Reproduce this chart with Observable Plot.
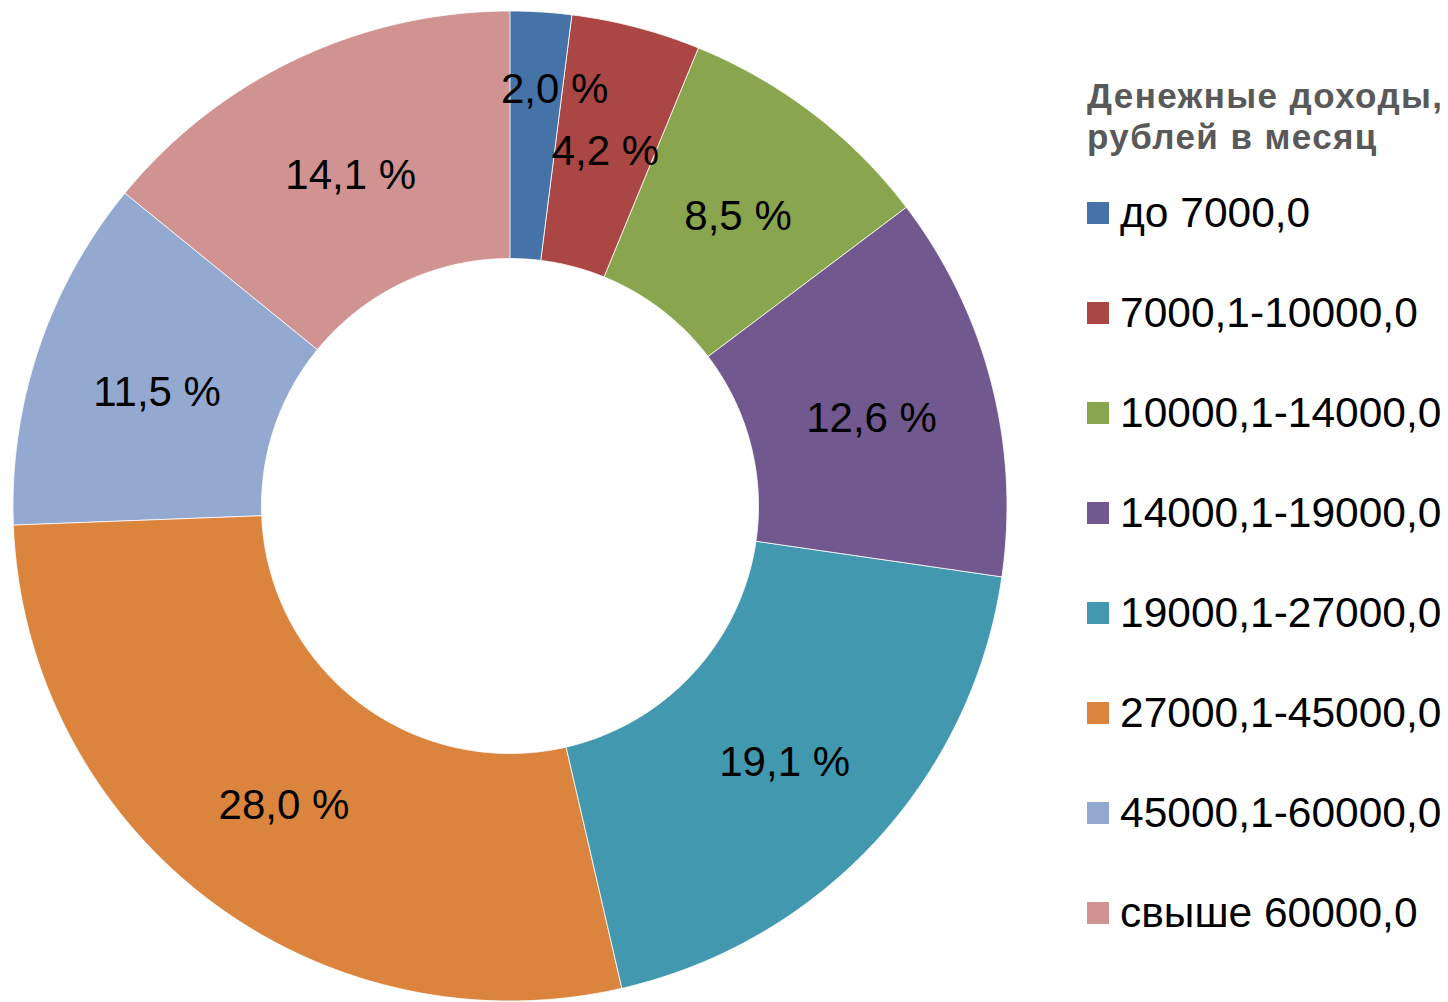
<!DOCTYPE html>
<html>
<head>
<meta charset="utf-8">
<script src="https://cdn.jsdelivr.net/npm/d3@7"></script>
<script src="https://cdn.jsdelivr.net/npm/@observablehq/plot@0.6"></script>
<style>
  body { margin: 0; background: #fff; }
  #wrap { position: relative; width: 1448px; height: 1002px; overflow: hidden; }
  #chart { position: absolute; left: 0; top: 0; }
  #legend { position: absolute; left: 1087px; top: 0; font-family: "Liberation Sans", Arial, sans-serif; }
  #legend .title { position: absolute; left: 0; top: 75px; font-weight: bold; font-size: 35px; line-height: 41px; color: #595959; white-space: nowrap; letter-spacing: 1.4px; }
  #legend .item { position: absolute; left: 0; height: 100px; display: flex; align-items: center; white-space: nowrap; font-size: 42.5px; color: #000; }
  #legend .sw { width: 22px; height: 22px; margin-right: 11px; flex: none; }
</style>
</head>
<body>
<div id="wrap">
  <div id="chart"></div>
  <div id="legend"></div>
</div>
<script>
// ---- data ----
const categories = ["до 7000,0", "7000,1-10000,0", "10000,1-14000,0", "14000,1-19000,0",
                    "19000,1-27000,0", "27000,1-45000,0", "45000,1-60000,0", "свыше 60000,0"];
const shares = [2.0, 4.2, 8.5, 12.6, 19.1, 28.0, 11.5, 14.1];
const colors = ["#4572A7", "#AA4643", "#89A54E", "#71588F", "#4198AF", "#DB843D", "#93A9CF", "#D19392"];
const legendTitle = ["Денежные доходы,", "рублей в месяц"];

// ---- geometry derived from data (clockwise from 12 o'clock) ----
const innerRatio = 0.5;
const total = d3.sum(shares);
const ring = [];
const labels = [];
let cum = 0;
shares.forEach((v, i) => {
  const a0 = cum / total * 2 * Math.PI;
  const a1 = (cum + v) / total * 2 * Math.PI;
  const n = Math.max(2, Math.ceil((a1 - a0) / (Math.PI / 360)));
  for (let k = 0; k <= n; k++) {
    const a = a0 + (a1 - a0) * k / n;
    ring.push({cat: categories[i], ox: Math.sin(a), oy: Math.cos(a), ix: innerRatio * Math.sin(a), iy: innerRatio * Math.cos(a)});
  }
  let mid = (a0 + a1) / 2;
  let r = (1 + innerRatio) / 2;
  const small = v < 3;
  if (small) { r = 0.85; mid += 2.4 * Math.PI / 180; } // tiny slice: label pushed outward
  labels.push({cat: categories[i], small, x: r * Math.sin(mid), y: r * Math.cos(mid),
               text: v.toFixed(1).replace(".", ",") + " %"});
  cum += v;
});

const chart = Plot.plot({
  width: 1448,
  height: 1002,
  marginLeft: 13,
  marginRight: 441,
  marginTop: 11,
  marginBottom: 1,
  x: {domain: [-1, 1], axis: null},
  y: {domain: [-1, 1], axis: null},
  color: {domain: categories, range: colors},
  style: {fontFamily: "'Liberation Sans', Arial, sans-serif", background: "white"},
  marks: [
    Plot.area(ring, {x1: "ox", y1: "oy", x2: "ix", y2: "iy", z: "cat", fill: "cat",
                     stroke: "white", strokeWidth: 1, strokeOpacity: 0.8}),
    Plot.text(labels.filter(d => !d.small), {x: "x", y: "y", text: "text", fontSize: 42, fill: "black", dy: 4}),
    Plot.text(labels.filter(d => d.small), {x: "x", y: "y", text: "text", fontSize: 42, fill: "black", dy: 1})
  ]
});
document.getElementById("chart").appendChild(chart);

// ---- legend ----
const legend = document.getElementById("legend");
const t = document.createElement("div");
t.className = "title";
t.innerHTML = legendTitle.join("<br>");
legend.appendChild(t);
categories.forEach((c, i) => {
  const row = document.createElement("div");
  row.className = "item";
  row.style.top = (163 + i * 100) + "px";
  const sw = document.createElement("div");
  sw.className = "sw";
  sw.style.background = colors[i];
  const tx = document.createElement("span");
  tx.textContent = c;
  row.appendChild(sw);
  row.appendChild(tx);
  legend.appendChild(row);
});
</script>
</body>
</html>
